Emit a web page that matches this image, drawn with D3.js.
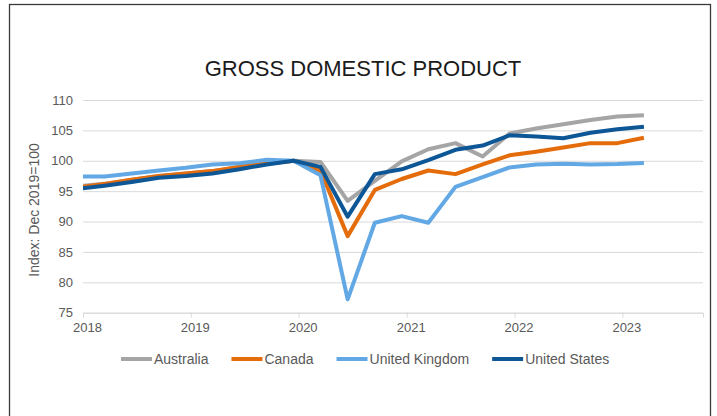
<!DOCTYPE html>
<html>
<head>
<meta charset="utf-8">
<script src="https://cdn.jsdelivr.net/npm/d3@7"></script>
<style>
  body { margin: 0; background: #fff; }
  svg { display: block; font-family: "Liberation Sans", Arial, sans-serif; }
</style>
</head>
<body>
<svg width="717" height="416"></svg>
<script>
// quarterly observations, plotted mid-month of the quarter's last month
const quarters = ["2017-12", "2018-03", "2018-06", "2018-09", "2018-12", "2019-03", "2019-06", "2019-09",
  "2019-12", "2020-03", "2020-06", "2020-09", "2020-12", "2021-03", "2021-06", "2021-09",
  "2021-12", "2022-03", "2022-06", "2022-09", "2022-12", "2023-03"];

const australia = [95.8, 96.2, 96.9, 97.5, 97.9, 98.3, 98.9, 99.5, 100, 99.8, 93.4, 96.7,
  99.9, 101.9, 102.9, 100.7, 104.5, 105.3, 106.0, 106.7, 107.3, 107.5];
const canada = [95.6, 96.2, 96.9, 97.5, 97.9, 98.3, 99.0, 99.6, 100, 98.4, 87.6, 95.2,
  97.0, 98.4, 97.8, 99.4, 100.9, 101.5, 102.2, 102.9, 102.9, 103.8];
const unitedKingdom = [97.4, 97.4, 97.9, 98.4, 98.85, 99.4, 99.6, 100.15, 100, 97.6, 77.2, 89.8,
  90.9, 89.8, 95.7, 97.3, 98.9, 99.4, 99.5, 99.4, 99.45, 99.65];
const unitedStates = [95.4, 95.9, 96.5, 97.2, 97.5, 97.9, 98.6, 99.4, 100, 99.0, 90.8, 97.8,
  98.6, 100.1, 101.8, 102.5, 104.2, 104.0, 103.7, 104.6, 105.2, 105.6];

const seriesNames = ["Australia", "Canada", "United Kingdom", "United States"];
const yTicks = [75, 80, 85, 90, 95, 100, 105, 110];
const yearTicks = [2018, 2019, 2020, 2021, 2022, 2023];

const series = [australia, canada, unitedKingdom, unitedStates];
const parse = d3.timeParse("%Y-%m-%d");
const dates = quarters.map(q => parse(q + "-15"));

const svg = d3.select("svg");
const plotLeft = 83, plotRight = 703, plotTop = 100, plotBottom = 312.7;

const x = d3.scaleTime()
  .domain([new Date(2018, 0, 1), new Date(2023, 9, 1)])
  .range([plotLeft, plotRight]);
const y = d3.scaleLinear().domain([75, 110]).range([plotBottom, plotTop]);

const color = d3.scaleOrdinal()
  .domain(seriesNames)
  .range(["#a5a5a5", "#e46c0a", "#62a8e5", "#0e5797"]);

// chart border
svg.append("rect")
  .attr("x", 9.5).attr("y", 4.5)
  .attr("width", 701).attr("height", 430)
  .attr("fill", "none").attr("stroke", "#3a3a3a").attr("stroke-width", 1.3);

// title
svg.append("text")
  .attr("x", 363).attr("y", 76)
  .attr("text-anchor", "middle")
  .attr("font-size", 22)
  .attr("fill", "#1a1a1a")
  .text("GROSS DOMESTIC PRODUCT");

// gridlines + y labels
const yAxis = svg.append("g")
  .attr("transform", `translate(${plotLeft},0)`)
  .call(d3.axisLeft(y).tickValues(yTicks).tickSize(-(plotRight - plotLeft)).tickPadding(10));
yAxis.select(".domain").remove();
yAxis.selectAll(".tick line").attr("stroke", "#d9d9d9");
yAxis.selectAll(".tick text")
  .attr("font-size", 13).attr("fill", "#595959")
  .attr("font-family", "Liberation Sans, Arial, sans-serif");

// x axis
const xAxis = svg.append("g")
  .attr("transform", `translate(0,${plotBottom})`)
  .call(d3.axisBottom(x)
    .tickValues(yearTicks.map(yr => new Date(yr, 0, 1)))
    .tickFormat(d3.timeFormat("%Y"))
    .tickSize(5).tickPadding(5));
xAxis.select(".domain").attr("stroke", "#d9d9d9");
xAxis.selectAll(".tick line").attr("stroke", "#d9d9d9");
xAxis.selectAll(".tick text")
  .attr("font-size", 13).attr("fill", "#595959").attr("dx", 4)
  .attr("font-family", "Liberation Sans, Arial, sans-serif");

// y title
svg.append("text")
  .attr("transform", "translate(39,210) rotate(-90)")
  .attr("text-anchor", "middle")
  .attr("font-size", 14)
  .attr("fill", "#595959")
  .text("Index: Dec 2019=100");

// lines
svg.append("clipPath").attr("id", "plot")
  .append("rect").attr("x", plotLeft).attr("y", 0).attr("width", plotRight - plotLeft).attr("height", 416);

const line = d3.line()
  .x((d, i) => x(dates[i]))
  .y(d => y(d));

svg.append("g").attr("clip-path", "url(#plot)")
  .selectAll("path")
  .data(series)
  .join("path")
  .attr("d", line)
  .attr("fill", "none")
  .attr("stroke", (d, i) => color(seriesNames[i]))
  .attr("stroke-width", 4)
  .attr("stroke-linejoin", "round");

// legend
const legend = svg.append("g");
let lx = 121;
seriesNames.forEach(name => {
  legend.append("line")
    .attr("x1", lx).attr("x2", lx + 31)
    .attr("y1", 359).attr("y2", 359)
    .attr("stroke", color(name)).attr("stroke-width", 4);
  const t = legend.append("text")
    .attr("x", lx + 33).attr("y", 364)
    .attr("font-size", 14).attr("fill", "#595959")
    .text(name);
  lx += 33 + t.node().getComputedTextLength() + 23;
});
</script>
</body>
</html>
